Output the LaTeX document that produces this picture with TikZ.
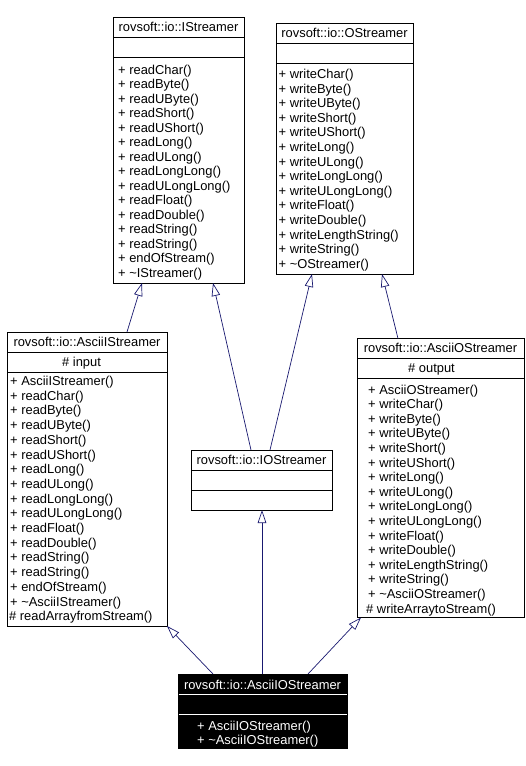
\documentclass[tikz,border=0pt]{standalone}
\usepackage{fontspec}
\setmainfont{Liberation Sans}
\usetikzlibrary{arrows.meta}
\definecolor{edge}{RGB}{25,25,112}
\begin{document}
\begin{tikzpicture}[x=1pt,y=-1pt,
  box/.style={draw=black, line width=0.9pt, rectangle, inner sep=0pt, outer sep=0pt, fill=white},
  sepline/.style={draw=black, line width=0.9pt},
  mem/.style={anchor=west, inner sep=0pt, text height=10pt, text depth=2pt, font=\fontsize{12.9}{14}\selectfont},
  ttl/.style={anchor=center, inner sep=0pt, text height=10pt, text depth=2pt, font=\fontsize{12.9}{14}\selectfont},
  inh/.style={draw=edge, line width=0.7pt, -{Triangle[open, length=13pt, width=8.5pt]}}]
\useasboundingbox (0,0) rectangle (526,766);
\fill[white] (0,0) rectangle (526,766);

% ---------- IStreamer ----------
\node[box, minimum width=131pt, minimum height=266pt] (istr) at (178.5,150) {};
\draw[sepline] (113,37) -- (244,37);
\draw[sepline] (113,57) -- (244,57);
\node[ttl] (istrT) at (178.5,27.5) {rovsoft::io::IStreamer};
\foreach \t [count=\i from 0] in {readChar,readByte,readUByte,readShort,readUShort,readLong,readULong,readLongLong,readULongLong,readFloat,readDouble,readString,readString,endOfStream,\textasciitilde IStreamer}
  \node[mem] (is\i) at (118,70+14.5*\i) {+ \t()};

% ---------- OStreamer ----------
\node[box, minimum width=137pt, minimum height=251pt] (ostr) at (344.5,148.5) {};
\draw[sepline] (276,43) -- (413,43);
\draw[sepline] (276,63) -- (413,63);
\node[ttl] (ostrT) at (344.5,33.5) {rovsoft::io::OStreamer};
\foreach \t [count=\i from 0] in {writeChar,writeByte,writeUByte,writeShort,writeUShort,writeLong,writeULong,writeLongLong,writeULongLong,writeFloat,writeDouble,writeLengthString,writeString,\textasciitilde OStreamer}
  \node[mem] (os\i) at (278.5,74.5+14.6*\i) {+ \t()};

% ---------- AsciiIStreamer ----------
\node[box, minimum width=160pt, minimum height=294pt] (aistr) at (87,479) {};
\draw[sepline] (7,352) -- (167,352);
\draw[sepline] (7,372) -- (167,372);
\node[ttl] (aistrT) at (87,342.5) {rovsoft::io::AsciiIStreamer};
\node[mem] (aistrA) at (62,362) {\# input};
\foreach \t [count=\i from 0] in {AsciiIStreamer,readChar,readByte,readUByte,readShort,readUShort,readLong,readULong,readLongLong,readULongLong,readFloat,readDouble,readString,readString,endOfStream,\textasciitilde AsciiIStreamer}
  \node[mem] (ai\i) at (10,381.5+14.7*\i) {+ \t()};
\node[mem] (aiP) at (9,616.7) {\# readArrayfromStream()};

% ---------- AsciiOStreamer ----------
\node[box, minimum width=167pt, minimum height=279pt] (aostr) at (440.5,478) {};
\draw[sepline] (357,358.5) -- (524,358.5);
\draw[sepline] (357,378.5) -- (524,378.5);
\node[ttl] (aostrT) at (440.5,348.5) {rovsoft::io::AsciiOStreamer};
\node[mem] (aostrA) at (408,368.5) {\# output};
\foreach \t [count=\i from 0] in {AsciiOStreamer,writeChar,writeByte,writeUByte,writeShort,writeUShort,writeLong,writeULong,writeLongLong,writeULongLong,writeFloat,writeDouble,writeLengthString,writeString,\textasciitilde AsciiOStreamer}
  \node[mem] (ao\i) at (368,390+14.6*\i) {+ \t()};
\node[mem] (aoP) at (366,609) {\# writeArraytoStream()};

% ---------- IOStreamer ----------
\node[box, minimum width=141pt, minimum height=60pt] (iostr) at (261.5,480) {};
\draw[sepline] (191,470) -- (332,470);
\draw[sepline] (191,490) -- (332,490);
\node[ttl] (iostrT) at (261.5,460.5) {rovsoft::io::IOStreamer};

% ---------- AsciiIOStreamer (highlighted) ----------
\node[box, draw=black, fill=black, minimum width=169pt, minimum height=74pt] (bl) at (262.5,711) {};
\draw[white, line width=0.9pt] (178.5,694.5) -- (346.5,694.5);
\draw[white, line width=0.9pt] (178.5,714.5) -- (346.5,714.5);
\node[ttl, text=white] (blT) at (262.5,685) {rovsoft::io::AsciiIOStreamer};
\node[mem, text=white] (bl0) at (197,726) {+ AsciiIOStreamer()};
\node[mem, text=white] (bl1) at (197,740) {+ \textasciitilde AsciiIOStreamer()};

% ---------- inheritance connectors ----------
\draw[inh] ([xshift=120pt]aistr.north west) -- ([xshift=29pt]istr.south west);
\draw[inh] ([xshift=60pt]iostr.north west) -- ([xshift=100pt]istr.south west);
\draw[inh] ([xshift=79pt]iostr.north west) -- ([xshift=36pt]ostr.south west);
\draw[inh] ([xshift=41pt]aostr.north west) -- ([xshift=106pt]ostr.south west);
\draw[inh] ([xshift=35pt]bl.north west) -- (aistr.south east);
\draw[inh] ([xshift=84pt]bl.north west) -- ([xshift=71pt]iostr.south west);
\draw[inh] ([xshift=130pt]bl.north west) -- ([xshift=4pt]aostr.south west);
\end{tikzpicture}
\end{document}
